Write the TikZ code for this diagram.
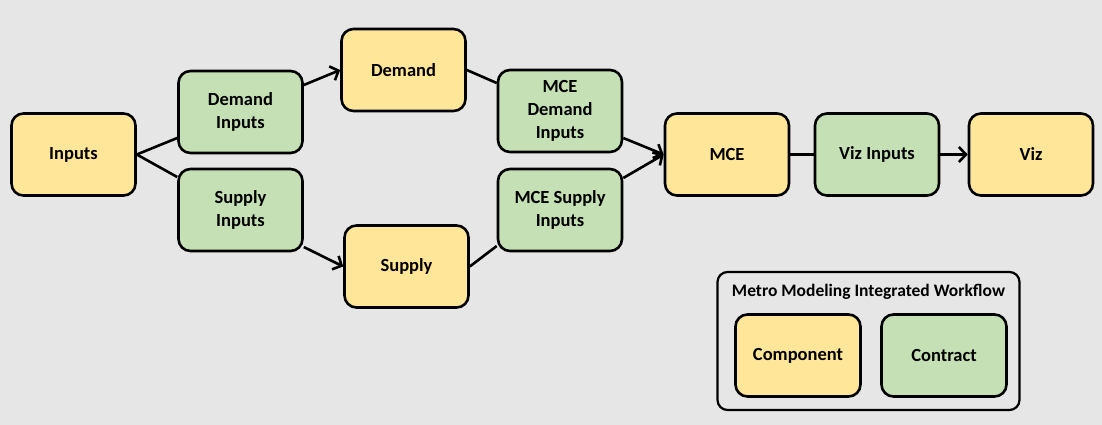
\documentclass[tikz,border=0pt]{standalone}
\usepackage{fontspec}
\setmainfont{Carlito}
\usetikzlibrary{arrows.meta}
\definecolor{bgc}{RGB}{231,230,230}
\definecolor{compc}{RGB}{255,230,153}
\definecolor{contc}{RGB}{197,224,180}
\tikzset{
  box/.style={draw=black, line width=2.6pt, rounded corners=12pt, minimum width=124pt, minimum height=82pt, inner sep=0pt, align=center, font=\fontsize{18.5}{23}\selectfont\bfseries},
  comp/.style={box, fill=compc},
  cont/.style={box, fill=contc},
  conn/.style={draw=black, line width=2.6pt},
  arr/.style={conn, -{Straight Barb[length=7pt,width=15pt,line width=2.6pt]}}
}
\begin{document}
\begin{tikzpicture}[x=1pt,y=-1pt]
\fill[bgc] (0,0) rectangle (1102,425);
\useasboundingbox (0,0) rectangle (1102,425);
\node[comp] (inp) at (73.5,154.5) {Inputs};
\node[cont] (dinp) at (240.5,112) {Demand\\Inputs};
\node[cont] (sinp) at (240.5,210) {Supply\\Inputs};
\node[comp] (dem) at (403.5,70) {Demand};
\node[comp] (sup) at (406.5,266.5) {Supply};
\node[cont] (mdi) at (560,111) {MCE\\Demand\\Inputs};
\node[cont] (msi) at (560,210) {MCE Supply\\Inputs};
\node[comp] (mce) at (727,154.5) {MCE};
\node[cont] (vizin) at (877,154.5) {Viz Inputs};
\node[comp] (viz) at (1031,154.5) {Viz};
% legend
\node[draw=black, line width=2.2pt, rounded corners=10pt, minimum width=302pt, minimum height=138pt, inner sep=0pt] (leg) at (868.5,341) {};
\node[font=\fontsize{17.5}{20}\selectfont\bfseries, anchor=center] (legt) at (868.5,292) {Metro Modeling Integrated Workflow};
\node[comp, minimum width=125pt] (lcomp) at (798,355.5) {Component};
\node[cont, minimum width=125pt] (lcont) at (944,355.5) {Contract};
% connectors
\draw[conn] (inp.east) -- ([yshift=-26pt]dinp.west);
\draw[conn] (inp.east) -- ([yshift=33pt]sinp.west);
\draw[arr] ([yshift=27pt]dinp.east) -- (dem.west);
\draw[arr] ([yshift=-37pt]sinp.east) -- (sup.west);
\draw[conn] (dem.east) -- ([yshift=28pt]mdi.west);
\draw[conn] (sup.east) -- ([yshift=-36pt]msi.west);
\draw[arr] ([yshift=-27pt]mdi.east) -- (mce.west);
\draw[arr] ([yshift=32pt]msi.east) -- (mce.west);
\draw[conn] (mce.east) -- (vizin.west);
\draw[arr] (vizin.east) -- (viz.west);
\end{tikzpicture}
\end{document}
